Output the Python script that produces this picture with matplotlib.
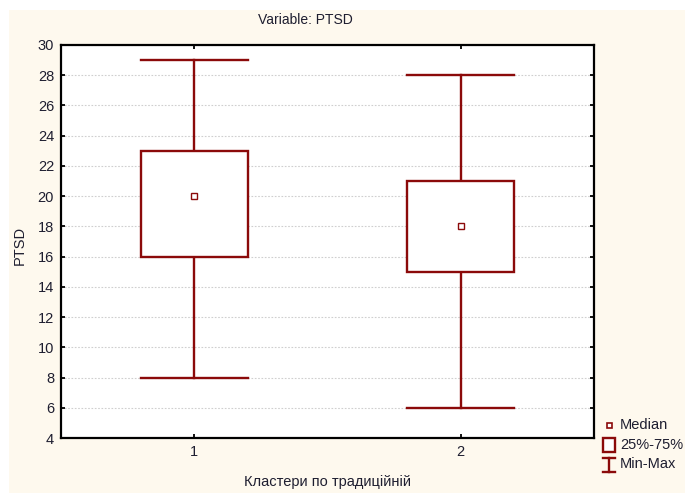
import matplotlib
matplotlib.use("Agg")
import matplotlib.pyplot as plt
from matplotlib.patches import Rectangle
from matplotlib.lines import Line2D

# data
clusters = [1, 2]
mins = [8, 6]
q1s = [16, 15]
medians = [20, 18]
q3s = [23, 21]
maxs = [29, 28]
yticks = list(range(4, 31, 2))

RED = "#8b0a0a"
CREAM = "#fef9ee"
TXT = "#1e1e30"

plt.rcParams["font.family"] = ["Liberation Sans Narrow", "Liberation Sans", "DejaVu Sans"]
plt.rcParams["font.size"] = 10

W, H = 685, 495
fig = plt.figure(figsize=(W / 100, H / 100), dpi=100)
fig.patch.set_facecolor("white")
fig.add_artist(Rectangle((9 / W, 2 / H), 1 - 9 / W, 1 - 12 / H, transform=fig.transFigure,
                         facecolor=CREAM, edgecolor="none", zorder=-10))

ax = fig.add_axes([61 / W, 1 - 438 / H, (594 - 61) / W, (438 - 45) / H])
ax.set_facecolor("white")

bw = 0.4
for x, lo, a, m, b, hi in zip(clusters, mins, q1s, medians, q3s, maxs):
    ax.add_patch(Rectangle((x - bw / 2, a), bw, b - a, facecolor="white",
                           edgecolor=RED, lw=1.7, zorder=3))
    ax.plot([x, x], [b, hi], color=RED, lw=1.7, zorder=2)
    ax.plot([x, x], [lo, a], color=RED, lw=1.7, zorder=2)
    ax.plot([x - bw / 2, x + bw / 2], [hi, hi], color=RED, lw=1.7, zorder=2)
    ax.plot([x - bw / 2, x + bw / 2], [lo, lo], color=RED, lw=1.7, zorder=2)
    ax.plot([x], [m], marker="s", ms=4.5, mfc="white", mec=RED, mew=1.0, zorder=4)

ax.set_xlim(0.5, 2.5)
ax.set_ylim(4, 30)
ax.set_xticks(clusters)
ax.set_yticks(yticks)
ax.yaxis.grid(True, color="#cfcfcf", ls=(0, (1.5, 1.5)), lw=0.8)
ax.set_axisbelow(True)
ax.tick_params(direction="in", length=3, width=1.3, top=True, right=True,
               labelsize=10.5, labelcolor=TXT, pad=5)
for s in ax.spines.values():
    s.set_linewidth(1.6)
    s.set_color("black")

fig.text(305 / W, 1 - 20 / H, "Variable: PTSD", ha="center", va="center", fontsize=10, color=TXT)
fig.text(20 / W, 1 - 245 / H, "PTSD", rotation=90, ha="center", va="center", fontsize=10.5, color=TXT)
fig.text(327 / W, 1 - 482 / H, "Кластери по традиційній", ha="center", va="center",
         fontsize=10.5, color=TXT)

# legend, drawn in figure pixels
def px(x, y):
    return x / W, 1 - y / H

fig.add_artist(Rectangle(px(606.5, 428), 5 / W, 5 / H, transform=fig.transFigure,
                         facecolor="white", edgecolor=RED, lw=1.2))
fig.add_artist(Rectangle(px(603, 452), 12 / W, 14 / H, transform=fig.transFigure,
                         facecolor="white", edgecolor=RED, lw=1.7))
for xs, ys in [([603, 615], [458, 458]), ([603, 615], [472, 472]), ([609, 609], [458, 472])]:
    fig.add_artist(Line2D([v / W for v in xs], [1 - v / H for v in ys],
                          transform=fig.transFigure, color=RED, lw=1.7))
for yy, label in [(425, "Median"), (445, "25%-75%"), (464, "Min-Max")]:
    fig.text(620 / W, 1 - yy / H, label, ha="left", va="center", fontsize=10.5, color=TXT)

fig.savefig("out.png", dpi=100, facecolor=fig.get_facecolor())
